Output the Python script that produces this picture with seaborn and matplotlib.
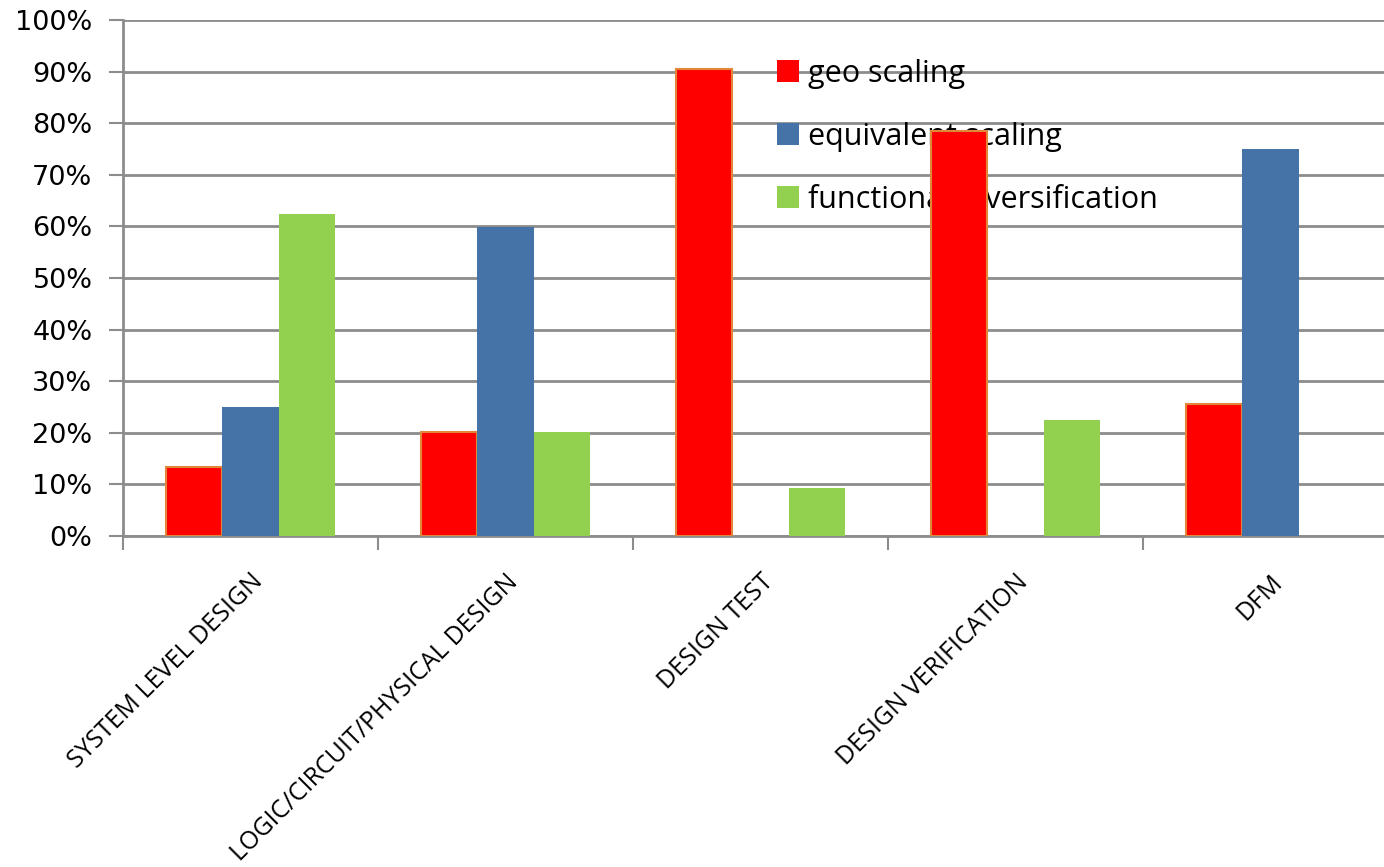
import matplotlib
matplotlib.use("Agg")
import matplotlib.pyplot as plt
import seaborn as sns
import pandas as pd
from matplotlib.ticker import FixedLocator, PercentFormatter

categories = ["SYSTEM LEVEL DESIGN", "LOGIC/CIRCUIT/PHYSICAL DESIGN", "DESIGN TEST",
              "DESIGN VERIFICATION", "DFM"]
series = ["geo scaling", "equivalent scaling", "functional diversification"]
geo_scaling = [13.3, 20.2, 90.6, 78.5, 25.6]
equivalent_scaling = [25.0, 59.9, 0.0, 0.0, 75.0]
functional_diversification = [62.4, 20.2, 9.3, 22.4, 0.0]
colors = ["#FF0000", "#4572A7", "#92D050"]

rows = []
for s, vals in zip(series, [geo_scaling, equivalent_scaling, functional_diversification]):
    for c, v in zip(categories, vals):
        rows.append({"category": c, "series": s, "value": v})
df = pd.DataFrame(rows)

sns.set_style("white", {"text.color": "black", "xtick.color": "black",
                        "ytick.color": "black", "axes.labelcolor": "black"})
plt.rcParams["font.family"] = ["Open Sans", "DejaVu Sans"]

fig = plt.figure(figsize=(13.84, 8.67), dpi=100)
ax = fig.add_axes([123/1384, 1-536/867, 1275/1384, 516/867])

sns.barplot(data=df, x="category", y="value", hue="series", order=categories,
            hue_order=series, palette=colors, width=0.66, gap=0, saturation=1,
            edgecolor="none", linewidth=0, ax=ax, zorder=3)

for p in ax.containers[0]:
    p.set_edgecolor("#E0873A")
    p.set_linewidth(1.5)

ax.set_ylim(0, 100)
ax.set_xlim(-0.5, 4.5)
ax.set_yticks(range(0, 101, 10))
ax.yaxis.set_major_formatter(PercentFormatter(decimals=0))
ax.set_xlabel("")
ax.set_ylabel("")
ax.grid(axis="y", color="#8C8C8C", linewidth=2)
ax.set_axisbelow(True)

for side in ["top", "right"]:
    ax.spines[side].set_visible(False)
for side in ["left", "bottom"]:
    ax.spines[side].set_color("#8C8C8C")
    ax.spines[side].set_linewidth(2)

ax.tick_params(axis="y", which="major", length=10, width=1.5, color="#8C8C8C",
               labelcolor="black", labelsize=19.5, pad=12, direction="out", left=True)
for lbl in ax.get_yticklabels():
    lbl.set_family(["DejaVu Sans"])
ax.tick_params(axis="x", which="major", length=0, labelsize=18, pad=24,
               labelcolor="black")
ax.xaxis.set_minor_locator(FixedLocator([-0.5, 0.5, 1.5, 2.5, 3.5, 4.5]))
ax.tick_params(axis="x", which="minor", length=10, width=1.5, color="#8C8C8C",
               direction="out", bottom=True)
for lbl in ax.get_xticklabels():
    lbl.set_rotation(45)
    lbl.set_ha("right")
    lbl.set_rotation_mode("anchor")

handles, labels = ax.get_legend_handles_labels()
leg = ax.legend(handles, labels, loc="upper left", bbox_to_anchor=(0.513, 0.925),
                frameon=False, fontsize=22, handlelength=0.72, handleheight=0.72,
                labelspacing=1.08, handletextpad=0.3, borderpad=0, borderaxespad=0,
                labelcolor="black")
leg.set_zorder(2)

fig.savefig("out.png", dpi=100)
